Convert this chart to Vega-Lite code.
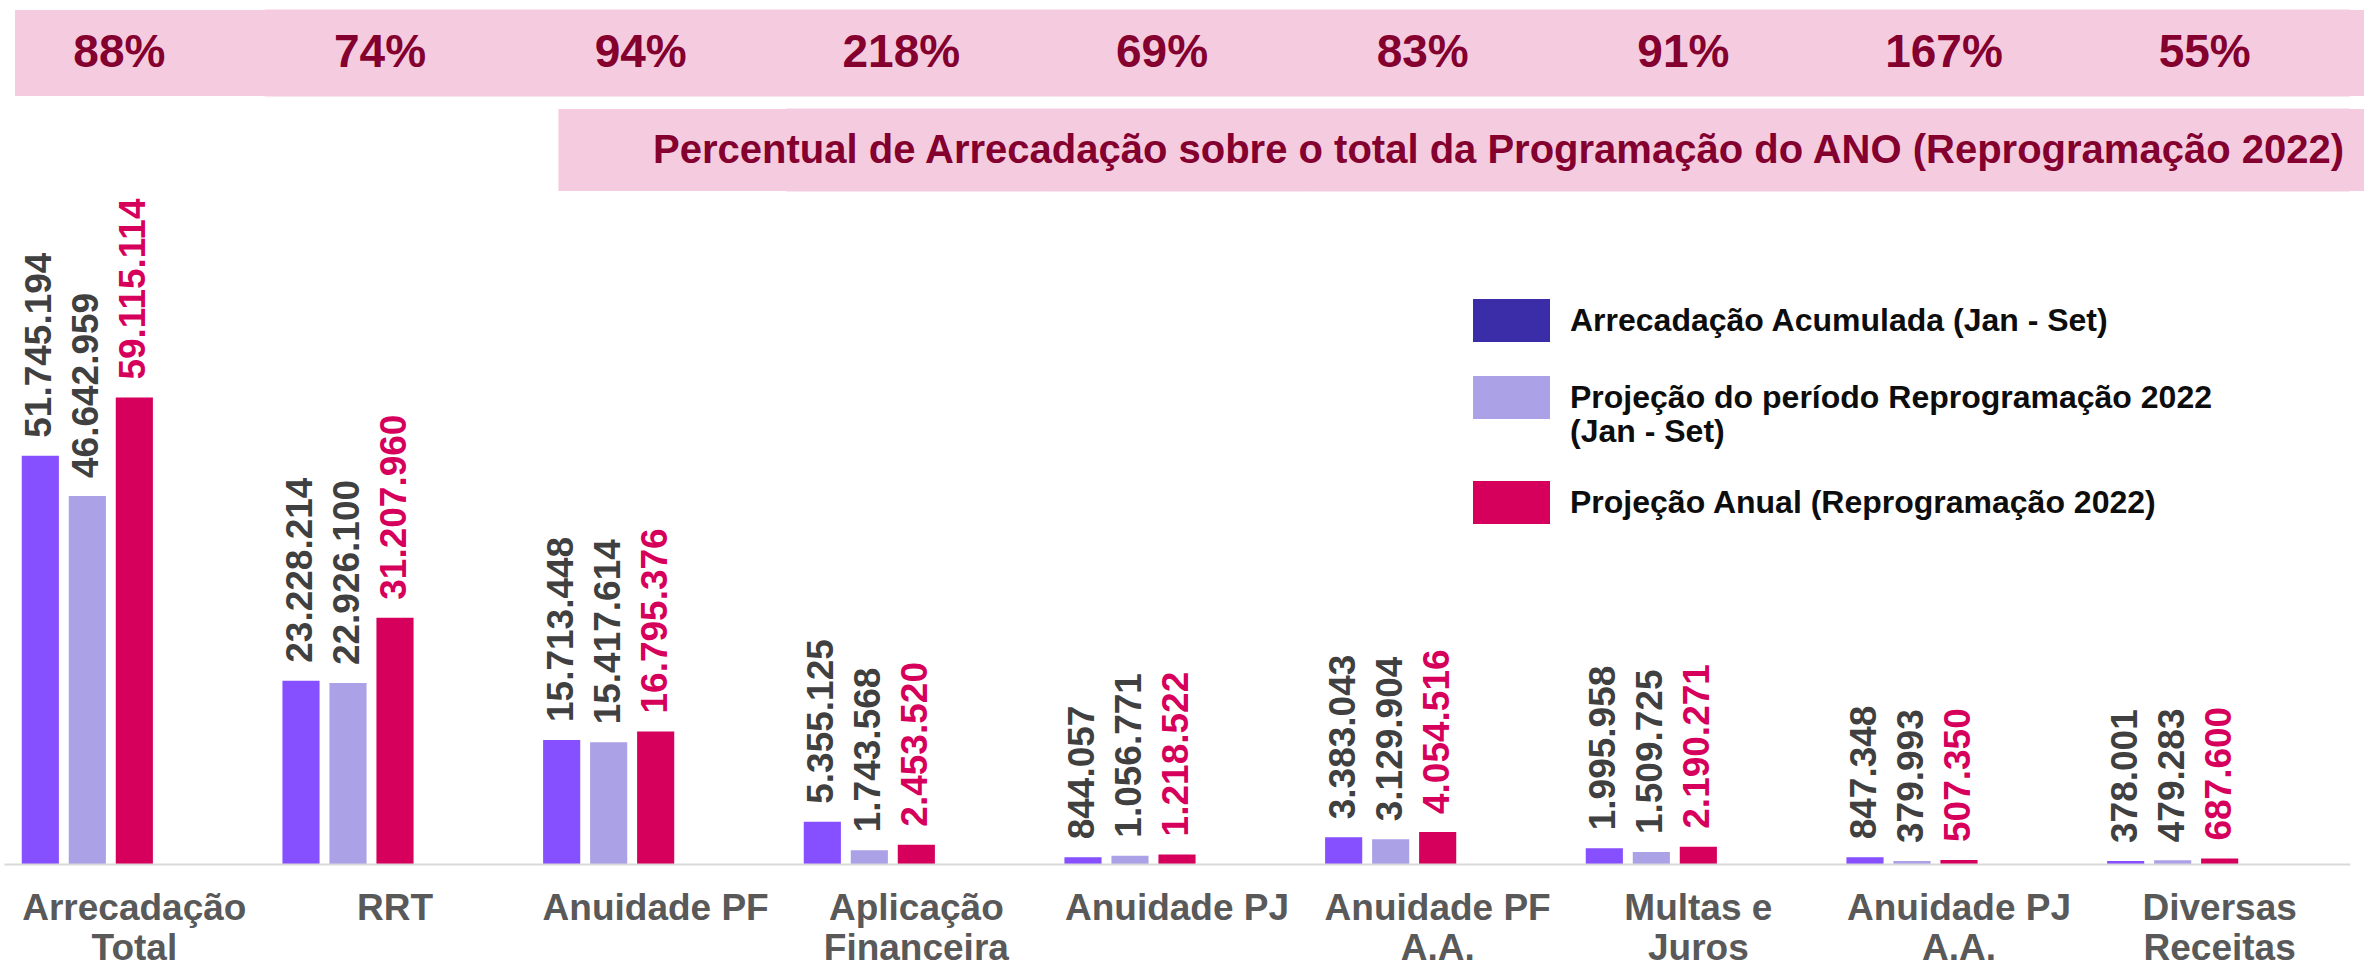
{
  "$schema": "https://vega.github.io/schema/vega-lite/v6.json",
  "width": 2346,
  "height": 854,
  "autosize": {"type": "none"},
  "padding": {"left": 4, "top": 10, "right": 14, "bottom": 103},
  "background": "white",
  "config": {
    "view": {"stroke": null},
    "font": "Liberation Sans",
    "locale": {"number": {"decimal": ",", "thousands": ".", "grouping": [3], "currency": ["R$", ""]}}
  },
  "datasets": {
    "cats": [
      {"cat": "Arrecadação|Total", "pct": 0.88},
      {"cat": "RRT", "pct": 0.74},
      {"cat": "Anuidade PF", "pct": 0.94},
      {"cat": "Aplicação|Financeira", "pct": 2.18},
      {"cat": "Anuidade PJ", "pct": 0.69},
      {"cat": "Anuidade PF|A.A.", "pct": 0.83},
      {"cat": "Multas e|Juros", "pct": 0.91},
      {"cat": "Anuidade PJ|A.A.", "pct": 1.67},
      {"cat": "Diversas|Receitas", "pct": 0.55}
    ],
    "bars": [
      {"cat": "Arrecadação|Total", "serie": "Arrecadação Acumulada (Jan - Set)", "v": 51745194},
      {"cat": "Arrecadação|Total", "serie": "Projeção do período Reprogramação 2022 (Jan - Set)", "v": 46642959},
      {"cat": "Arrecadação|Total", "serie": "Projeção Anual (Reprogramação 2022)", "v": 59115114},
      {"cat": "RRT", "serie": "Arrecadação Acumulada (Jan - Set)", "v": 23228214},
      {"cat": "RRT", "serie": "Projeção do período Reprogramação 2022 (Jan - Set)", "v": 22926100},
      {"cat": "RRT", "serie": "Projeção Anual (Reprogramação 2022)", "v": 31207960},
      {"cat": "Anuidade PF", "serie": "Arrecadação Acumulada (Jan - Set)", "v": 15713448},
      {"cat": "Anuidade PF", "serie": "Projeção do período Reprogramação 2022 (Jan - Set)", "v": 15417614},
      {"cat": "Anuidade PF", "serie": "Projeção Anual (Reprogramação 2022)", "v": 16795376},
      {"cat": "Aplicação|Financeira", "serie": "Arrecadação Acumulada (Jan - Set)", "v": 5355125},
      {"cat": "Aplicação|Financeira", "serie": "Projeção do período Reprogramação 2022 (Jan - Set)", "v": 1743568},
      {"cat": "Aplicação|Financeira", "serie": "Projeção Anual (Reprogramação 2022)", "v": 2453520},
      {"cat": "Anuidade PJ", "serie": "Arrecadação Acumulada (Jan - Set)", "v": 844057},
      {"cat": "Anuidade PJ", "serie": "Projeção do período Reprogramação 2022 (Jan - Set)", "v": 1056771},
      {"cat": "Anuidade PJ", "serie": "Projeção Anual (Reprogramação 2022)", "v": 1218522},
      {"cat": "Anuidade PF|A.A.", "serie": "Arrecadação Acumulada (Jan - Set)", "v": 3383043},
      {"cat": "Anuidade PF|A.A.", "serie": "Projeção do período Reprogramação 2022 (Jan - Set)", "v": 3129904},
      {"cat": "Anuidade PF|A.A.", "serie": "Projeção Anual (Reprogramação 2022)", "v": 4054516},
      {"cat": "Multas e|Juros", "serie": "Arrecadação Acumulada (Jan - Set)", "v": 1995958},
      {"cat": "Multas e|Juros", "serie": "Projeção do período Reprogramação 2022 (Jan - Set)", "v": 1509725},
      {"cat": "Multas e|Juros", "serie": "Projeção Anual (Reprogramação 2022)", "v": 2190271},
      {"cat": "Anuidade PJ|A.A.", "serie": "Arrecadação Acumulada (Jan - Set)", "v": 847348},
      {"cat": "Anuidade PJ|A.A.", "serie": "Projeção do período Reprogramação 2022 (Jan - Set)", "v": 379993},
      {"cat": "Anuidade PJ|A.A.", "serie": "Projeção Anual (Reprogramação 2022)", "v": 507350},
      {"cat": "Diversas|Receitas", "serie": "Arrecadação Acumulada (Jan - Set)", "v": 378001},
      {"cat": "Diversas|Receitas", "serie": "Projeção do período Reprogramação 2022 (Jan - Set)", "v": 479283},
      {"cat": "Diversas|Receitas", "serie": "Projeção Anual (Reprogramação 2022)", "v": 687600}
    ],
    "titulo": [
      {"cat": "Diversas|Receitas", "t": "Percentual de Arrecadação sobre o total da Programação do ANO (Reprogramação 2022)"}
    ]
  },
  "layer": [
    {
      "data": {"name": "cats"},
      "transform": [{"filter": {"not": {"field": "cat", "oneOf": ["Arrecadação|Total"]}}}],
      "mark": {"type": "rect", "color": "#F5CCDF", "stroke": "#F5CCDF", "strokeWidth": 1},
      "encoding": {
        "x": {"field": "cat", "type": "nominal", "sort": null, "title": null,
              "scale": {"domain": ["Arrecadação|Total", "RRT", "Anuidade PF", "Aplicação|Financeira", "Anuidade PJ", "Anuidade PF|A.A.", "Multas e|Juros", "Anuidade PJ|A.A.", "Diversas|Receitas"], "paddingInner": 0, "paddingOuter": 0},
              "axis": {"labelExpr": "split(datum.value, '|')", "domainColor": "#D9D9D9", "domainWidth": 2, "ticks": false, "tickSize": 0, "labelPadding": 26, "labelFont": "Liberation Sans", "labelFontSize": 37, "labelFontWeight": "bold", "labelColor": "#595959", "labelLineHeight": 40, "labelLimit": 0, "labelOverlap": false, "labelBound": false, "labelAngle": 0, "grid": false}},
        "y": {"datum": 97340000, "type": "quantitative", "scale": {"domain": [0, 108240000], "nice": false, "zero": true}, "axis": null},
        "y2": {"datum": 108240000}
      }
    },
    {
      "data": {"name": "titulo"},
      "mark": {"type": "rect", "color": "#F5CCDF"},
      "encoding": {
        "x": {"datum": "Arrecadação|Total", "type": "nominal", "bandPosition": 0.042, "title": null,
              "scale": {"domain": ["Arrecadação|Total", "RRT", "Anuidade PF", "Aplicação|Financeira", "Anuidade PJ", "Anuidade PF|A.A.", "Multas e|Juros", "Anuidade PJ|A.A.", "Diversas|Receitas"], "paddingInner": 0, "paddingOuter": 0},
              "axis": {"labelExpr": "split(datum.value, '|')", "domainColor": "#D9D9D9", "domainWidth": 2, "ticks": false, "tickSize": 0, "labelPadding": 26, "labelFont": "Liberation Sans", "labelFontSize": 37, "labelFontWeight": "bold", "labelColor": "#595959", "labelLineHeight": 40, "labelLimit": 0, "labelOverlap": false, "labelBound": false, "labelAngle": 0, "grid": false}},
        "x2": {"datum": "Diversas|Receitas"},
        "y": {"datum": 97340000, "type": "quantitative", "scale": {"domain": [0, 108240000], "nice": false, "zero": true}, "axis": null},
        "y2": {"datum": 108240000}
      }
    },
    {
      "data": {"name": "titulo"},
      "mark": {"type": "rect", "color": "#F5CCDF"},
      "encoding": {
        "x": {"datum": "Diversas|Receitas", "type": "nominal", "bandPosition": 1.054, "title": null,
              "scale": {"domain": ["Arrecadação|Total", "RRT", "Anuidade PF", "Aplicação|Financeira", "Anuidade PJ", "Anuidade PF|A.A.", "Multas e|Juros", "Anuidade PJ|A.A.", "Diversas|Receitas"], "paddingInner": 0, "paddingOuter": 0},
              "axis": {"labelExpr": "split(datum.value, '|')", "domainColor": "#D9D9D9", "domainWidth": 2, "ticks": false, "tickSize": 0, "labelPadding": 26, "labelFont": "Liberation Sans", "labelFontSize": 37, "labelFontWeight": "bold", "labelColor": "#595959", "labelLineHeight": 40, "labelLimit": 0, "labelOverlap": false, "labelBound": false, "labelAngle": 0, "grid": false}},
        "x2": {"datum": "Diversas|Receitas"},
        "y": {"datum": 97340000, "type": "quantitative", "scale": {"domain": [0, 108240000], "nice": false, "zero": true}, "axis": null},
        "y2": {"datum": 108240000}
      }
    },
    {
      "data": {"name": "titulo"},
      "mark": {"type": "rect", "color": "#F5CCDF"},
      "encoding": {
        "x": {"datum": "Diversas|Receitas", "type": "nominal", "bandPosition": 1.054, "title": null,
              "scale": {"domain": ["Arrecadação|Total", "RRT", "Anuidade PF", "Aplicação|Financeira", "Anuidade PJ", "Anuidade PF|A.A.", "Multas e|Juros", "Anuidade PJ|A.A.", "Diversas|Receitas"], "paddingInner": 0, "paddingOuter": 0},
              "axis": {"labelExpr": "split(datum.value, '|')", "domainColor": "#D9D9D9", "domainWidth": 2, "ticks": false, "tickSize": 0, "labelPadding": 26, "labelFont": "Liberation Sans", "labelFontSize": 37, "labelFontWeight": "bold", "labelColor": "#595959", "labelLineHeight": 40, "labelLimit": 0, "labelOverlap": false, "labelBound": false, "labelAngle": 0, "grid": false}},
        "x2": {"datum": "Diversas|Receitas"},
        "y": {"datum": 85300000, "type": "quantitative", "scale": {"domain": [0, 108240000], "nice": false, "zero": true}, "axis": null},
        "y2": {"datum": 95690000}
      }
    },
    {
      "data": {"name": "cats"},
      "transform": [{"filter": {"not": {"field": "cat", "oneOf": ["Arrecadação|Total", "RRT", "Anuidade PF"]}}}],
      "mark": {"type": "rect", "color": "#F5CCDF", "stroke": "#F5CCDF", "strokeWidth": 1},
      "encoding": {
        "x": {"field": "cat", "type": "nominal", "sort": null, "title": null,
              "scale": {"domain": ["Arrecadação|Total", "RRT", "Anuidade PF", "Aplicação|Financeira", "Anuidade PJ", "Anuidade PF|A.A.", "Multas e|Juros", "Anuidade PJ|A.A.", "Diversas|Receitas"], "paddingInner": 0, "paddingOuter": 0},
              "axis": {"labelExpr": "split(datum.value, '|')", "domainColor": "#D9D9D9", "domainWidth": 2, "ticks": false, "tickSize": 0, "labelPadding": 26, "labelFont": "Liberation Sans", "labelFontSize": 37, "labelFontWeight": "bold", "labelColor": "#595959", "labelLineHeight": 40, "labelLimit": 0, "labelOverlap": false, "labelBound": false, "labelAngle": 0, "grid": false}},
        "y": {"datum": 85300000, "type": "quantitative", "scale": {"domain": [0, 108240000], "nice": false, "zero": true}, "axis": null},
        "y2": {"datum": 95690000}
      }
    },
    {
      "data": {"name": "titulo"},
      "mark": {"type": "rect", "color": "#F5CCDF"},
      "encoding": {
        "x": {"datum": "Anuidade PF", "type": "nominal", "bandPosition": 0.127, "title": null,
              "scale": {"domain": ["Arrecadação|Total", "RRT", "Anuidade PF", "Aplicação|Financeira", "Anuidade PJ", "Anuidade PF|A.A.", "Multas e|Juros", "Anuidade PJ|A.A.", "Diversas|Receitas"], "paddingInner": 0, "paddingOuter": 0},
              "axis": {"labelExpr": "split(datum.value, '|')", "domainColor": "#D9D9D9", "domainWidth": 2, "ticks": false, "tickSize": 0, "labelPadding": 26, "labelFont": "Liberation Sans", "labelFontSize": 37, "labelFontWeight": "bold", "labelColor": "#595959", "labelLineHeight": 40, "labelLimit": 0, "labelOverlap": false, "labelBound": false, "labelAngle": 0, "grid": false}},
        "x2": {"datum": "Diversas|Receitas"},
        "y": {"datum": 85300000, "type": "quantitative", "scale": {"domain": [0, 108240000], "nice": false, "zero": true}, "axis": null},
        "y2": {"datum": 95690000}
      }
    },
    {
      "data": {"name": "cats"},
      "mark": {"type": "text", "font": "Liberation Sans", "fontSize": 46, "fontWeight": "bold", "color": "#83002F", "dx": -15, "baseline": "middle", "align": "center"},
      "encoding": {
        "x": {"field": "cat", "type": "nominal", "sort": null, "title": null,
              "scale": {"domain": ["Arrecadação|Total", "RRT", "Anuidade PF", "Aplicação|Financeira", "Anuidade PJ", "Anuidade PF|A.A.", "Multas e|Juros", "Anuidade PJ|A.A.", "Diversas|Receitas"], "paddingInner": 0, "paddingOuter": 0},
              "axis": {"labelExpr": "split(datum.value, '|')", "domainColor": "#D9D9D9", "domainWidth": 2, "ticks": false, "tickSize": 0, "labelPadding": 26, "labelFont": "Liberation Sans", "labelFontSize": 37, "labelFontWeight": "bold", "labelColor": "#595959", "labelLineHeight": 40, "labelLimit": 0, "labelOverlap": false, "labelBound": false, "labelAngle": 0, "grid": false}},
        "y": {"datum": 102850000, "type": "quantitative", "scale": {"domain": [0, 108240000], "nice": false, "zero": true}, "axis": null},
        "text": {"field": "pct", "format": ".0%"}
      }
    },
    {
      "data": {"name": "titulo"},
      "mark": {"type": "text", "font": "Liberation Sans", "fontSize": 40, "fontWeight": "bold", "color": "#83002F", "dx": -6, "baseline": "middle", "align": "right"},
      "encoding": {
        "x": {"field": "cat", "type": "nominal", "sort": null, "title": null, "bandPosition": 1,
              "scale": {"domain": ["Arrecadação|Total", "RRT", "Anuidade PF", "Aplicação|Financeira", "Anuidade PJ", "Anuidade PF|A.A.", "Multas e|Juros", "Anuidade PJ|A.A.", "Diversas|Receitas"], "paddingInner": 0, "paddingOuter": 0},
              "axis": {"labelExpr": "split(datum.value, '|')", "domainColor": "#D9D9D9", "domainWidth": 2, "ticks": false, "tickSize": 0, "labelPadding": 26, "labelFont": "Liberation Sans", "labelFontSize": 37, "labelFontWeight": "bold", "labelColor": "#595959", "labelLineHeight": 40, "labelLimit": 0, "labelOverlap": false, "labelBound": false, "labelAngle": 0, "grid": false}},
        "y": {"datum": 90370000, "type": "quantitative", "scale": {"domain": [0, 108240000], "nice": false, "zero": true}, "axis": null},
        "text": {"field": "t"}
      }
    },
    {
      "data": {"name": "bars"},
      "mark": {"type": "bar", "opacity": 0},
      "encoding": {
        "x": {"field": "cat", "type": "nominal", "sort": null, "title": null,
              "scale": {"domain": ["Arrecadação|Total", "RRT", "Anuidade PF", "Aplicação|Financeira", "Anuidade PJ", "Anuidade PF|A.A.", "Multas e|Juros", "Anuidade PJ|A.A.", "Diversas|Receitas"], "paddingInner": 0, "paddingOuter": 0},
              "axis": {"labelExpr": "split(datum.value, '|')", "domainColor": "#D9D9D9", "domainWidth": 2, "ticks": false, "tickSize": 0, "labelPadding": 26, "labelFont": "Liberation Sans", "labelFontSize": 37, "labelFontWeight": "bold", "labelColor": "#595959", "labelLineHeight": 40, "labelLimit": 0, "labelOverlap": false, "labelBound": false, "labelAngle": 0, "grid": false}},
        "xOffset": {"field": "serie", "type": "nominal", "sort": null,
                    "scale": {"domain": ["Arrecadação Acumulada (Jan - Set)", "Projeção do período Reprogramação 2022 (Jan - Set)", "Projeção Anual (Reprogramação 2022)", "_4", "_5"], "paddingInner": 0.21, "paddingOuter": 0.378}},
        "y": {"field": "v", "type": "quantitative", "scale": {"domain": [0, 108240000], "nice": false, "zero": true}, "axis": null},
        "color": {"field": "serie", "type": "nominal", "sort": null,
                  "scale": {"domain": ["Arrecadação Acumulada (Jan - Set)", "Projeção do período Reprogramação 2022 (Jan - Set)", "Projeção Anual (Reprogramação 2022)"], "range": ["#3B2CA8", "#ABA1E6", "#D6005C"]},
                  "legend": {
                    "title": null, "orient": "none", "legendX": 1469, "legendY": 272, "direction": "vertical", "columns": 1, "padding": 0,
                    "symbolType": "M-1,-0.56H1V0.56H-1Z", "symbolSize": 5929, "symbolStrokeWidth": 0, "symbolOpacity": 1,
                    "labelFont": "Liberation Sans", "labelFontSize": 32, "labelFontWeight": "bold", "labelColor": "#0D0D0D",
                    "labelOffset": 20, "labelLimit": 0, "rowPadding": 16,
                    "labelExpr": "datum.value == 'Projeção do período Reprogramação 2022 (Jan - Set)' ? ['Projeção do período Reprogramação 2022', '(Jan - Set)'] : datum.value"
                  }}
      }
    },
    {
      "data": {"name": "bars"},
      "mark": {"type": "bar"},
      "encoding": {
        "x": {"field": "cat", "type": "nominal", "sort": null, "title": null,
              "scale": {"domain": ["Arrecadação|Total", "RRT", "Anuidade PF", "Aplicação|Financeira", "Anuidade PJ", "Anuidade PF|A.A.", "Multas e|Juros", "Anuidade PJ|A.A.", "Diversas|Receitas"], "paddingInner": 0, "paddingOuter": 0},
              "axis": {"labelExpr": "split(datum.value, '|')", "domainColor": "#D9D9D9", "domainWidth": 2, "ticks": false, "tickSize": 0, "labelPadding": 26, "labelFont": "Liberation Sans", "labelFontSize": 37, "labelFontWeight": "bold", "labelColor": "#595959", "labelLineHeight": 40, "labelLimit": 0, "labelOverlap": false, "labelBound": false, "labelAngle": 0, "grid": false}},
        "xOffset": {"field": "serie", "type": "nominal", "sort": null,
                    "scale": {"domain": ["Arrecadação Acumulada (Jan - Set)", "Projeção do período Reprogramação 2022 (Jan - Set)", "Projeção Anual (Reprogramação 2022)", "_4", "_5"], "paddingInner": 0.21, "paddingOuter": 0.378}},
        "y": {"field": "v", "type": "quantitative", "scale": {"domain": [0, 108240000], "nice": false, "zero": true}, "axis": null},
        "fill": {"field": "serie", "type": "nominal", "sort": null,
                 "scale": {"domain": ["Arrecadação Acumulada (Jan - Set)", "Projeção do período Reprogramação 2022 (Jan - Set)", "Projeção Anual (Reprogramação 2022)"], "range": ["#864FFF", "#ABA1E6", "#D6005C"]},
                 "legend": null}
      }
    },
    {
      "data": {"name": "bars"},
      "mark": {"type": "text", "angle": 270, "align": "left", "baseline": "middle", "dx": 18, "font": "Liberation Sans", "fontSize": 37, "fontWeight": "bold"},
      "encoding": {
        "x": {"field": "cat", "type": "nominal", "sort": null, "title": null,
              "scale": {"domain": ["Arrecadação|Total", "RRT", "Anuidade PF", "Aplicação|Financeira", "Anuidade PJ", "Anuidade PF|A.A.", "Multas e|Juros", "Anuidade PJ|A.A.", "Diversas|Receitas"], "paddingInner": 0, "paddingOuter": 0},
              "axis": {"labelExpr": "split(datum.value, '|')", "domainColor": "#D9D9D9", "domainWidth": 2, "ticks": false, "tickSize": 0, "labelPadding": 26, "labelFont": "Liberation Sans", "labelFontSize": 37, "labelFontWeight": "bold", "labelColor": "#595959", "labelLineHeight": 40, "labelLimit": 0, "labelOverlap": false, "labelBound": false, "labelAngle": 0, "grid": false}},
        "xOffset": {"field": "serie", "type": "nominal", "sort": null,
                    "scale": {"domain": ["Arrecadação Acumulada (Jan - Set)", "Projeção do período Reprogramação 2022 (Jan - Set)", "Projeção Anual (Reprogramação 2022)", "_4", "_5"], "paddingInner": 0.21, "paddingOuter": 0.378}},
        "y": {"field": "v", "type": "quantitative", "scale": {"domain": [0, 108240000], "nice": false, "zero": true}, "axis": null},
        "text": {"field": "v", "type": "quantitative", "format": ",d"},
        "color": {"condition": {"test": "datum.serie == 'Projeção Anual (Reprogramação 2022)'", "value": "#D6005C"}, "value": "#404040"}
      }
    }
  ]
}
